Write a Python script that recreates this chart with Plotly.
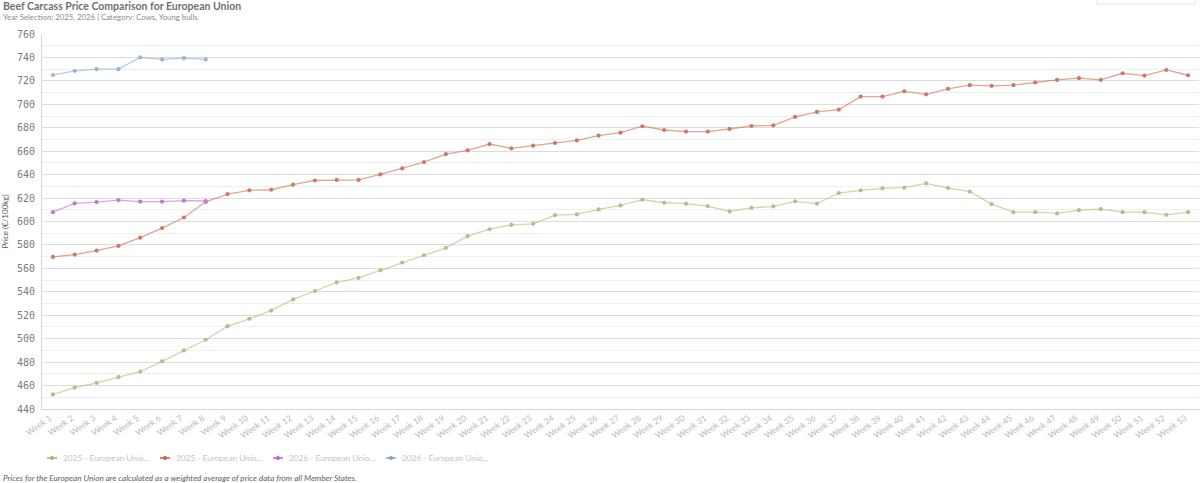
import plotly.graph_objects as go

weeks = [f"Week {i}" for i in range(1, 54)]

# 2025 - European Union (Cows)
cows_2025 = [
    452.4, 458.3, 462.3, 467.4, 471.9, 480.7, 490.0, 499.1, 510.7, 517.0,
    524.0, 533.5, 540.7, 548.1, 551.9, 558.4, 565.0, 571.2, 577.5, 587.5,
    593.4, 597.1, 598.0, 605.4, 606.0, 610.3, 613.7, 618.6, 616.0, 615.2,
    613.2, 608.6, 611.7, 612.9, 617.2, 615.2, 624.3, 626.6, 628.3, 628.9,
    632.5, 628.6, 625.4, 614.9, 608.0, 608.0, 606.9, 609.7, 610.6, 608.0,
    608.0, 605.7, 608.0,
]
# 2025 - European Union (Young bulls)
bulls_2025 = [
    569.8, 571.8, 575.2, 579.2, 586.2, 594.4, 603.4, 616.8, 623.4, 626.6,
    627.1, 631.4, 635.0, 635.5, 635.5, 640.2, 645.3, 650.7, 657.5, 660.7,
    666.1, 662.4, 664.7, 667.0, 669.2, 673.3, 675.8, 681.3, 678.1, 676.7,
    676.7, 679.0, 681.5, 682.1, 689.2, 693.5, 695.5, 706.6, 706.6, 711.1,
    708.5, 713.2, 716.3, 715.8, 716.3, 718.6, 720.8, 722.3, 720.8, 726.5,
    724.5, 729.3, 724.8,
]
# 2026 - European Union (Cows)
cows_2026 = [608.0, 615.5, 616.6, 618.3, 617.0, 617.0, 617.8, 617.5]
# 2026 - European Union (Young bulls)
bulls_2026 = [725.0, 728.6, 730.0, 730.0, 740.0, 738.3, 739.4, 738.3]

legend_labels = ["2025 - European Unio...", "2025 - European Unio...",
                 "2026 - European Unio...", "2026 - European Unio..."]

series = [
    (legend_labels[0], cows_2025, "rgba(150,190,110,0.55)", "#a3c788", "#8fbf6f"),
    (legend_labels[1], bulls_2025, "rgba(200,90,70,0.55)", "#d27766", "#cf5c46"),
    (legend_labels[2], cows_2026, "rgba(200,100,220,0.6)", "#c873dc", "#bd5fd6"),
    (legend_labels[3], bulls_2026, "rgba(120,160,200,0.55)", "#98b6d3", "#7ca6cc"),
]

# plot area in pixels (for the hand placed legend/texts)
L, R, T, B = 42, 1, 34, 74
W, H = 1200, 483
pw, ph = W - L - R, H - T - B


def px(x):
    return (x - L) / pw


def py(y):
    return (H - B - y) / ph


fig = go.Figure()
for name, vals, lc, mc, _ in series:
    fig.add_trace(go.Scatter(
        x=weeks[:len(vals)], y=vals,
        mode="lines+markers", name=name, showlegend=False,
        line=dict(color=lc, width=1.3),
        marker=dict(color=mc, size=4.2),
    ))

fig.update_layout(
    width=W, height=H,
    margin=dict(l=L, r=R, t=T, b=B, autoexpand=False),
    plot_bgcolor="white", paper_bgcolor="white",
    font=dict(family="Lato, Open Sans, sans-serif", color="#666"),
    xaxis=dict(
        type="category", range=[-0.5, 52.5], automargin=False,
        tickangle=-35, tickfont=dict(size=8.5, color="#bababa"),
        ticklabelshift=-3,
        showgrid=False, showline=True, linecolor="#d6d6d6", linewidth=1,
        ticks="",
    ),
    yaxis=dict(
        range=[440, 760], tickvals=list(range(440, 761, 20)), automargin=False,
        tickfont=dict(size=10, color="#7a7a7a", family="DejaVu Sans Mono"),
        ticklabelstandoff=4,
        gridcolor="#dcdcdc", gridwidth=1,
        minor=dict(dtick=10, showgrid=True, gridcolor="#efefef"),
        showline=True, linecolor="#d6d6d6", zeroline=False, ticks="",
        title=dict(text="Price (€/100kg)", font=dict(size=8, color="#555"), standoff=7),
    ),
)

fig.add_annotation(
    text="<b>Beef Carcass Price Comparison for European Union</b>",
    xref="paper", yref="paper", x=px(1), y=py(6), xanchor="left", yanchor="middle",
    showarrow=False, font=dict(size=10.5, color="#707070"),
)
fig.add_annotation(
    text="Year Selection: 2025, 2026 | Category: Cows, Young bulls",
    xref="paper", yref="paper", x=px(1), y=py(17), xanchor="left", yanchor="middle",
    showarrow=False, font=dict(size=7.8, color="#8a8a8a"),
)
fig.add_annotation(
    text="<i>Prices for the European Union are calculated as a weighted average of price data from all Member States.</i>",
    xref="paper", yref="paper", x=px(1), y=py(478), xanchor="left", yanchor="middle",
    showarrow=False, font=dict(size=8.2, color="#5e5e5e"),
)

# legend row
leg_y = 458
for i, (name, _, _, _, sc) in enumerate(series):
    x0 = 47 + i * 113
    fig.add_shape(type="line", xref="paper", yref="paper",
                  x0=px(x0), x1=px(x0 + 10), y0=py(leg_y), y1=py(leg_y),
                  line=dict(color=sc, width=1.5))
    fig.add_shape(type="circle", xref="paper", yref="paper",
                  x0=px(x0 + 3), x1=px(x0 + 7), y0=py(leg_y + 2), y1=py(leg_y - 2),
                  line=dict(color=sc, width=0), fillcolor=sc)
    fig.add_annotation(text=name, xref="paper", yref="paper",
                       x=px(x0 + 14), y=py(leg_y), xanchor="left", yanchor="middle",
                       showarrow=False, font=dict(size=8.3, color="#c4c4c4"))

# faint box in the top right corner
fig.add_shape(
    type="rect", xref="paper", yref="paper", x0=px(1097), x1=px(1195), y0=py(4), y1=py(-20),
    line=dict(color="#e6e6e6", width=1), fillcolor="white", layer="above",
)

fig.write_html("out.html", config={"displayModeBar": False},
               post_script="document.body.style.margin='0';")
